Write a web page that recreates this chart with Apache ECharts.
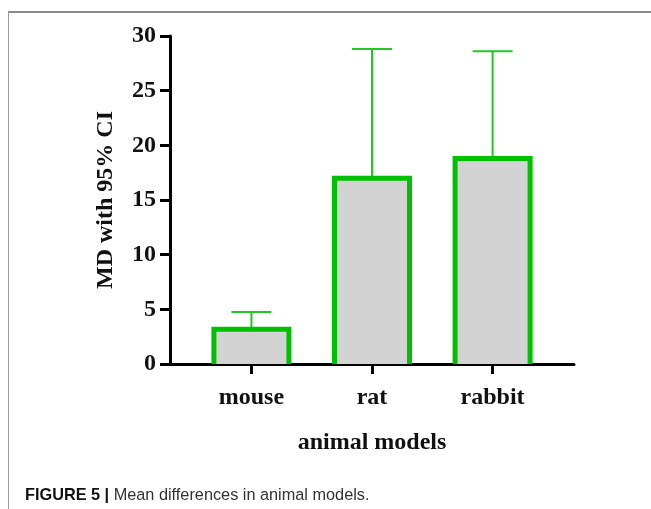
<!DOCTYPE html>
<html><head><meta charset="utf-8">
<script src="https://cdn.jsdelivr.net/npm/echarts@6/dist/echarts.min.js"></script>
<style>html,body{margin:0;padding:0;background:#fff}#c{width:651px;height:509px}</style>
</head><body><div id="c"></div>
<script>
const categories = ['mouse', 'rat', 'rabbit'];
const meanValues = [3.18, 17.0, 18.8];
const upperCI = [4.76, 28.8, 28.6];
const yTicks = [0, 5, 10, 15, 20, 25, 30];
const xTitle = 'animal models';
const yTitle = 'MD with 95% CI';
const captionBold = 'FIGURE 5 |';
const captionText = ' Mean differences in animal models.';

const green = '#00c000';
const serif = '"Liberation Serif", "Times New Roman", serif';

const chart = echarts.init(document.getElementById('c'), null, {renderer: 'canvas'});
const barData = categories.map((c, i) => [i, meanValues[i], upperCI[i]]);
const catIdx = categories.map((c, i) => i);

chart.setOption({
  animation: false,
  grid: {left: 170, right: 77, top: 36, bottom: 145, containLabel: false},
  xAxis: {
    type: 'value', min: -0.675, max: 2.675,
    splitLine: {show: false},
    axisLine: {show: true, onZero: false, lineStyle: {color: '#000', width: 3}},
    axisTick: {show: true, customValues: catIdx, length: 10, lineStyle: {color: '#000', width: 3}},
    axisLabel: {customValues: catIdx, margin: 22, color: '#111', fontFamily: serif, fontWeight: 'bold', fontSize: 24,
      formatter: v => categories[Math.round(v)] || ''},
    name: xTitle, nameLocation: 'middle', nameGap: 67,
    nameTextStyle: {color: '#111', fontFamily: serif, fontWeight: 'bold', fontSize: 24}
  },
  yAxis: {
    type: 'value', min: 0, max: 30, interval: 5,
    splitLine: {show: false},
    axisLine: {show: true, onZero: false, lineStyle: {color: '#000', width: 3}},
    axisTick: {show: true, length: 10, lineStyle: {color: '#000', width: 3}},
    axisLabel: {margin: 14, color: '#111', fontFamily: serif, fontWeight: 'bold', fontSize: 24,
      customValues: yTicks},
    name: yTitle, nameLocation: 'middle', nameGap: 52,
    nameTextStyle: {color: '#111', fontFamily: serif, fontWeight: 'bold', fontSize: 24}
  },
  series: [
    {
      type: 'custom', data: barData, z: 1,
      renderItem: function (params, api) {
        const x = api.value(0);
        const base = api.coord([x, 0]);
        const top = api.coord([x, api.value(1)]);
        const ci = api.coord([x, api.value(2)]);
        const hw = 37.5, cw = 20;
        const st = {stroke: '#22c822', lineWidth: 2};
        return {type: 'group', children: [
          {type: 'line', shape: {x1: ci[0], y1: top[1], x2: ci[0], y2: ci[1]}, style: st},
          {type: 'line', shape: {x1: ci[0] - cw, y1: ci[1], x2: ci[0] + cw, y2: ci[1]}, style: st},
          {type: 'rect', shape: {x: top[0] - hw, y: top[1], width: hw * 2, height: base[1] - top[1]},
            style: {fill: '#d3d3d3'}},
          {type: 'polyline', shape: {points: [[top[0] - hw, base[1]], [top[0] - hw, top[1]], [top[0] + hw, top[1]], [top[0] + hw, base[1]]]},
            style: {stroke: green, lineWidth: 5, fill: null, lineJoin: 'miter'}}
        ]};
      }
    }
  ],
  graphic: [
    {type: 'line', shape: {x1: 8, y1: 12, x2: 651, y2: 12}, style: {stroke: '#8a8a8a', lineWidth: 2}},
    {type: 'line', shape: {x1: 8.5, y1: 12, x2: 8.5, y2: 509}, style: {stroke: '#9a9a9a', lineWidth: 1}},
    {type: 'text', left: 25, top: 488, style: {
      text: '{b|' + captionBold + '}{r|' + captionText + '}',
      rich: {
        b: {fontFamily: '"Liberation Sans", Arial, sans-serif', fontWeight: 'bold', fontSize: 16.3, fill: '#111'},
        r: {fontFamily: '"Liberation Sans", Arial, sans-serif', fontSize: 16.3, fill: '#333'}
      }
    }}
  ]
});
</script></body></html>
